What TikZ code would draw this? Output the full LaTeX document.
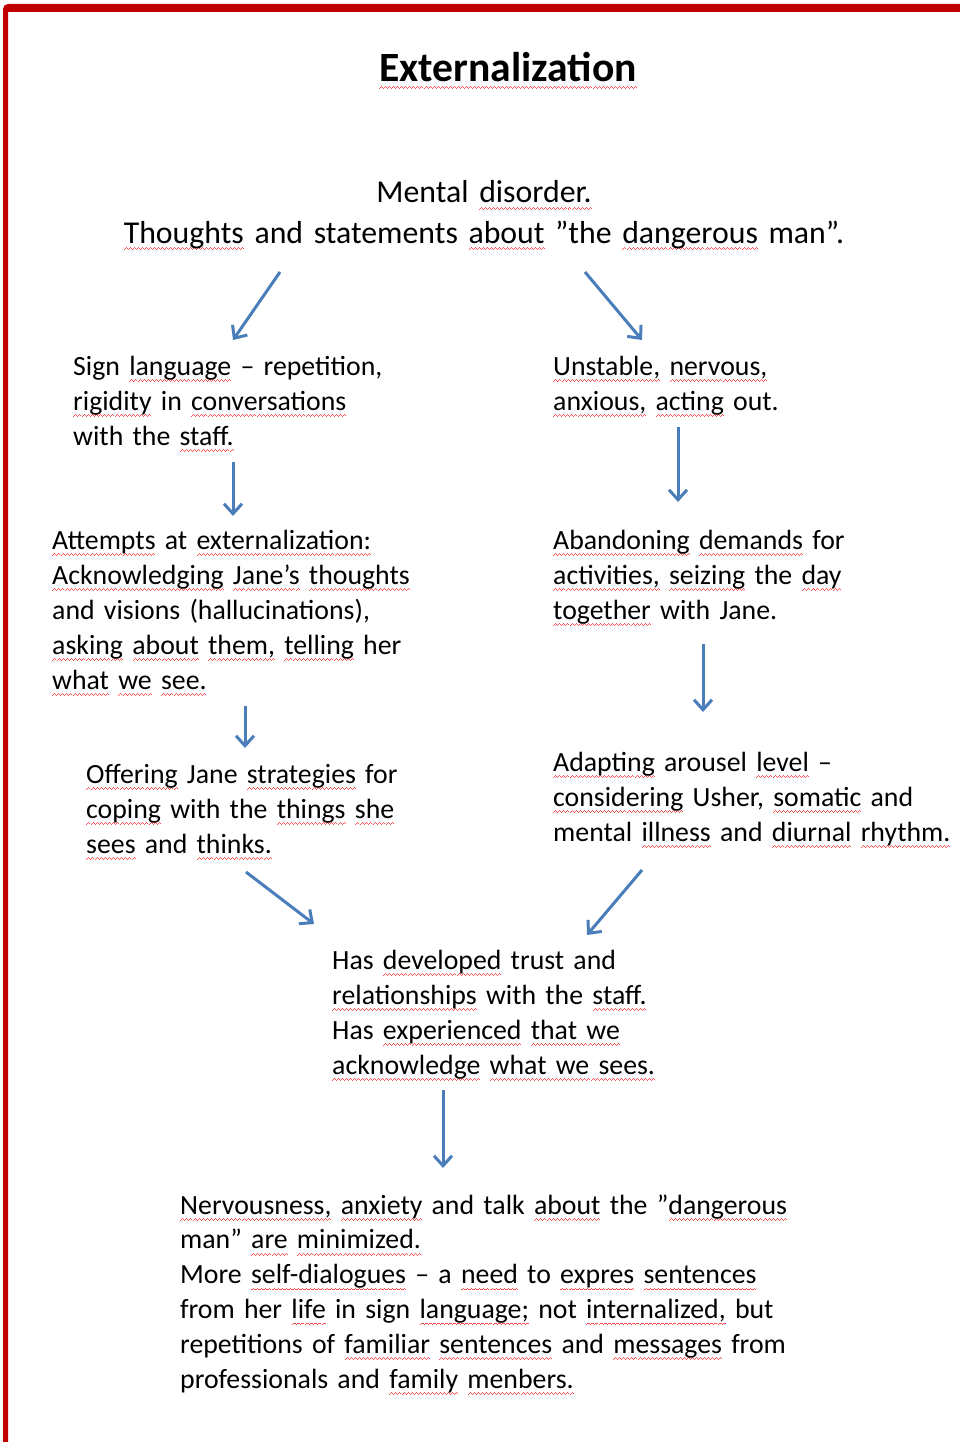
\documentclass[tikz,border=0pt]{standalone}
\usepackage{fontspec}
\setmainfont{Carlito}
\usetikzlibrary{arrows.meta}
\definecolor{bordred}{HTML}{C00000}
\definecolor{arrblue}{HTML}{4A7EBB}
\definecolor{sqred}{HTML}{FF5050}
\newsavebox\sqbox
\newcommand\sqwave{\hbox to 4pt{\rule[-0.8pt]{1pt}{1pt}\rule[0pt]{1pt}{1pt}\rule[0.8pt]{1pt}{1pt}\rule[0pt]{1pt}{1pt}}}
\newcommand\sq[1]{\sbox\sqbox{#1}\leavevmode\rlap{\raisebox{-6pt}[0pt][0pt]{\textcolor{sqred}{\hbox to \wd\sqbox{\xleaders\sqwave\hfil}}}}\usebox\sqbox}
\begin{document}
\begin{tikzpicture}[x=1pt,y=-1pt,
  txt/.style={anchor=base west,inner sep=0pt,align=left,text width=400pt,
    font=\fontsize{27.8}{35}\selectfont},
  arr/.style={draw=arrblue,line width=3pt,
    -{Straight Barb[length=10pt,width=18pt]}}]
\useasboundingbox (0,0) rectangle (960,1442);
% red frame
\fill[bordred] (3,1442) [rounded corners=5pt]-- (3,4) [sharp corners]-- (960,4) -- (960,12) -- (8,12) -- (8,1442) -- cycle;
% title
\node[anchor=base,inner sep=0pt,font=\fontsize{41.6}{48}\selectfont\bfseries] (title) at (508,82) {\sq{Externalization}};
% top statement
\node[anchor=base,inner sep=0pt,align=center,text width=900pt,font=\fontsize{31.8}{40}\selectfont] (top) at (484,203)
  {Mental \sq{disorder.}\\ \sq{Thoughts} and statements \sq{about} ”the \sq{dangerous} man”.};
% left column
\node[txt] (sign) at (73,375)
  {Sign \sq{language} – repetition,\\ \sq{rigidity} in \sq{conversations}\\ with the \sq{staff.}};
\node[txt] (att) at (52,549)
  {\sq{Attempts} at \sq{externalization:}\\ \sq{Acknowledging} \sq{Jane’s} \sq{thoughts}\\ and visions (hallucinations),\\ \sq{asking} \sq{about} \sq{them,} \sq{telling} her\\ \sq{what} \sq{we} \sq{see.}};
\node[txt] (offer) at (86,783)
  {\sq{Offering} Jane \sq{strategies} for\\ \sq{coping} with the \sq{things} \sq{she}\\ \sq{sees} and \sq{thinks.}};
% right column
\node[txt] (unst) at (553,375)
  {\sq{Unstable,} \sq{nervous,}\\ \sq{anxious,} \sq{acting} out.};
\node[txt] (aband) at (553,549)
  {\sq{Abandoning} \sq{demands} for\\ \sq{activities,} \sq{seizing} the \sq{day}\\ \sq{together} with Jane.};
\node[txt] (adapt) at (553,771)
  {\sq{Adapting} arousel \sq{level} –\\ \sq{considering} Usher, \sq{somatic} and\\ mental \sq{illness} and \sq{diurnal} \sq{rhythm.}};
% centre
\node[txt] (cent) at (332,969)
  {Has \sq{developed} trust and\\ \sq{relationships} with the \sq{staff.}\\ Has \sq{experienced} \sq{that we}\\ \sq{acknowledge} \sq{what we sees.}};
% bottom
\node[txt,text width=700pt,font=\fontsize{27.8}{34.8}\selectfont] (bot) at (180,1214)
  {\sq{Nervousness,} \sq{anxiety} and talk \sq{about} the ”\sq{dangerous}\\ man” \sq{are} \sq{minimized.}\\ More \sq{self-dialogues} – a \sq{need} to \sq{expres} \sq{sentences}\\ from her \sq{life} in sign \sq{language;} not \sq{internalized,} but\\ repetitions of \sq{familiar} \sq{sentences} and \sq{messages} from\\ professionals and \sq{family} \sq{menbers.}};
% arrows
\draw[arr] ([shift={(-204,69)}]top.base) -- ([shift={(160,-35)}]sign.base west);
\draw[arr] ([shift={(101,69)}]top.base) -- ([shift={(89,-35)}]unst.base west);
\draw[arr] ([shift={(160,87)}]sign.base west) -- ([shift={(181,-33)}]att.base west);
\draw[arr] ([shift={(125,52)}]unst.base west) -- ([shift={(125,-47)}]aband.base west);
\draw[arr] ([shift={(193,157)}]att.base west) -- ([shift={(159,-35)}]offer.base west);
\draw[arr] ([shift={(150,95)}]aband.base west) -- ([shift={(150,-59)}]adapt.base west);
\draw[arr] ([shift={(160,89)}]offer.base west) -- ([shift={(-18,-45)}]cent.base west);
\draw[arr] ([shift={(89,99)}]adapt.base west) -- ([shift={(255,-34)}]cent.base west);
\draw[arr] ([shift={(111,121)}]cent.base west) -- ([shift={(263,-46)}]bot.base west);
\end{tikzpicture}
\end{document}
